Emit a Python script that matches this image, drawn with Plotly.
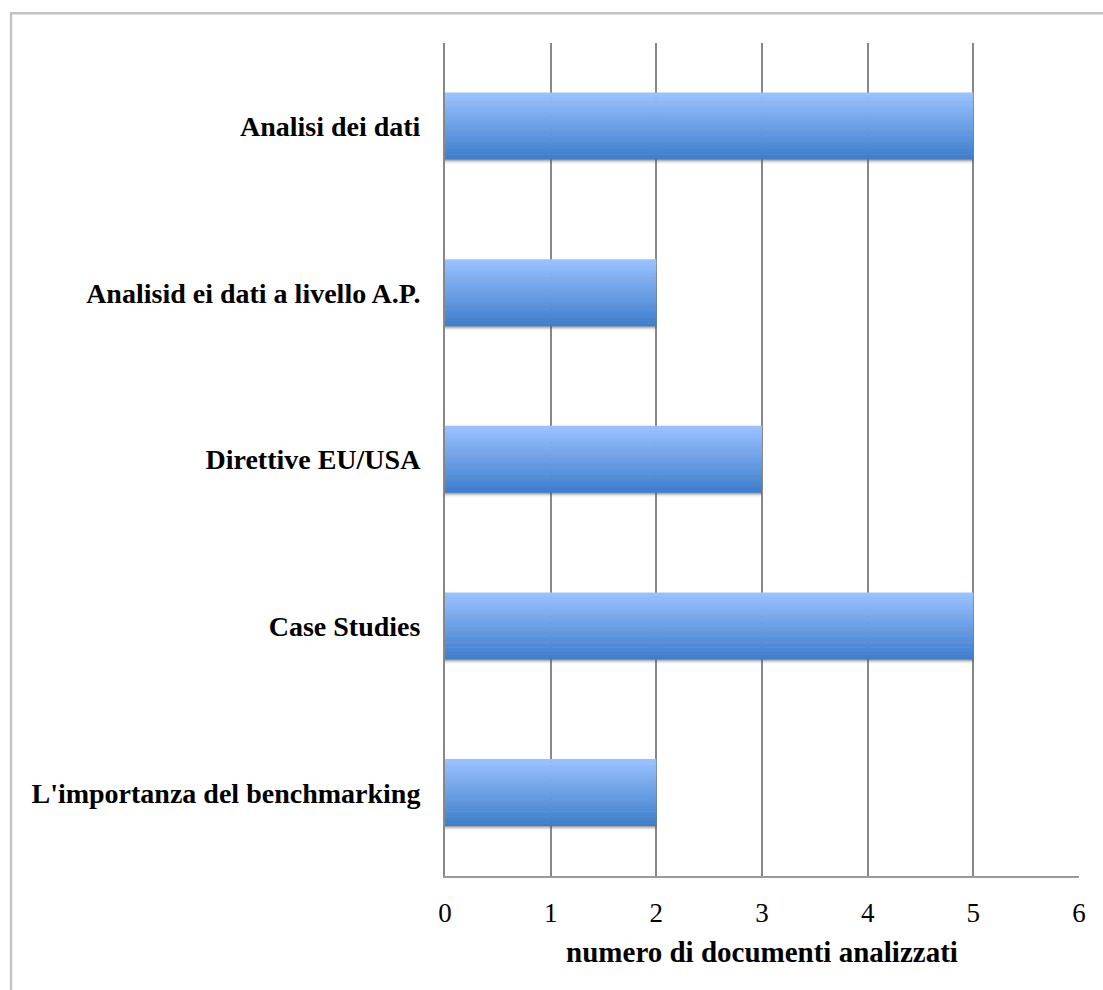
import plotly.graph_objects as go

# Topics (top to bottom) and number of analysed documents
categories = [
    "Analisi dei dati",
    "Analisid ei dati a livello A.P.",
    "Direttive EU/USA",
    "Case Studies",
    "L'importanza del benchmarking",
]
documents = [5, 2, 3, 5, 2]
x_ticks = [0, 1, 2, 3, 4, 5, 6]
x_title = "numero di documenti analizzati"

BAR_WIDTH = 0.4
N_STRIPS = 28
TOP_RGB = (153, 193, 255)
BOTTOM_RGB = (62, 126, 205)
FONT = "Liberation Serif"

fig = go.Figure()

# soft shadow underneath each bar
shadow_steps = [(0.006, 0.30), (0.012, 0.20), (0.018, 0.12), (0.026, 0.06)]
for depth, alpha in reversed(shadow_steps):
    fig.add_trace(go.Bar(
        y=categories, x=documents, orientation="h",
        width=BAR_WIDTH, offset=-BAR_WIDTH / 2 - depth,
        marker=dict(color=f"rgba(90,90,90,{alpha})", line=dict(width=0)),
        hoverinfo="skip", showlegend=False,
    ))

# vertical gradient built from thin horizontal strips (dark at bottom, light at top)
strip = BAR_WIDTH / N_STRIPS
for i in range(N_STRIPS):
    t = i / (N_STRIPS - 1)
    rgb = tuple(round(b + (a - b) * t) for a, b in zip(TOP_RGB, BOTTOM_RGB))
    fig.add_trace(go.Bar(
        y=categories, x=documents, orientation="h",
        width=strip * 1.15, offset=-BAR_WIDTH / 2 + i * strip,
        marker=dict(color=f"rgb{rgb}", line=dict(width=0)),
        hoverinfo="skip", showlegend=False,
    ))

# outer frame of the chart
fig.add_shape(type="path", xref="paper", yref="paper",
              path="M -0.6845,-0.3 L -0.6845,1.0356 L 1.2,1.0356",
              line=dict(color="#c3c3c3", width=2.5), layer="above")

fig.update_layout(
    width=1103, height=990,
    margin=dict(l=445, r=24, t=43, b=114),
    paper_bgcolor="white", plot_bgcolor="white",
    barmode="overlay", bargap=0.6,
    xaxis=dict(
        range=[0, 6], tickvals=x_ticks, ticktext=[str(v) for v in x_ticks],
        showgrid=True, gridcolor="#888888", gridwidth=2,
        showline=True, linecolor="#9a9a9a", linewidth=2,
        zeroline=False, ticks="", ticklabelstandoff=12,
        tickfont=dict(family=FONT, size=27, color="black"),
        title=dict(text=x_title, standoff=14,
                   font=dict(family=FONT, size=29, color="black", weight="bold")),
    ),
    yaxis=dict(
        type="category", categoryorder="array",
        categoryarray=list(reversed(categories)),
        showgrid=False, showline=True, linecolor="#888888", linewidth=2,
        zeroline=False, ticks="", ticklabelstandoff=17,
        tickfont=dict(family=FONT, size=28, color="black", weight="bold"),
    ),
)

fig.write_html("out.html")
